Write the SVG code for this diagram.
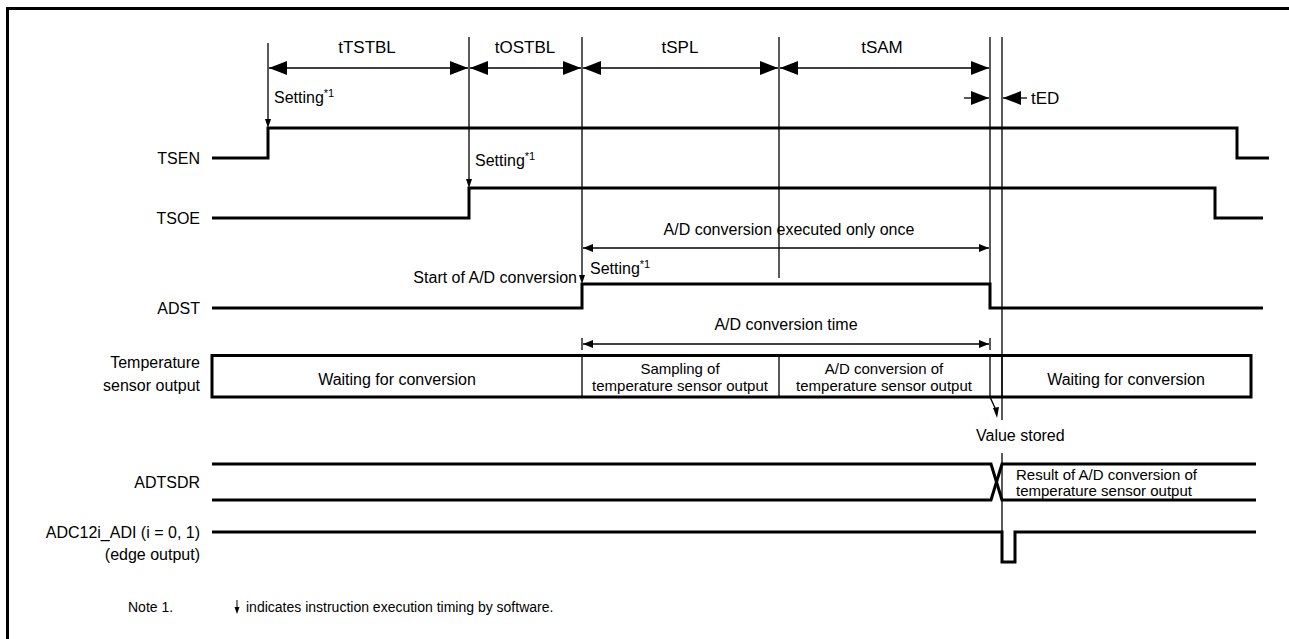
<svg xmlns="http://www.w3.org/2000/svg" width="1289" height="639" viewBox="0 0 1289 639">
<defs>
<style>
text{font-family:"Liberation Sans",Arial,sans-serif;fill:#000}
.lbl{font-size:16px}
.lab{font-size:16px;text-anchor:end}
.tim{font-size:17px;text-anchor:middle}
.cell{font-size:16px;text-anchor:middle}
.cell2{font-size:15px;text-anchor:middle}
.sup{font-size:11px}
.sig{fill:none;stroke:#000;stroke-width:3;stroke-linejoin:miter}
.mk{fill:none;stroke:#000;stroke-width:1.3}
.dim{fill:none;stroke:#000;stroke-width:1.3}
.frame{fill:none;stroke:#000;stroke-width:3}
</style>
<marker id="big" viewBox="0 0 18 14" refX="18" refY="7" markerWidth="18" markerHeight="14" markerUnits="userSpaceOnUse" orient="auto-start-reverse"><path d="M0,0 L18,7 L0,14 Z" fill="#000"/></marker>
<marker id="sm" viewBox="0 0 10 8" refX="10" refY="4" markerWidth="10" markerHeight="8" markerUnits="userSpaceOnUse" orient="auto-start-reverse"><path d="M0,0 L10,4 L0,8 Z" fill="#000"/></marker>
</defs>
<rect width="1289" height="639" fill="#fff"/>
<path class="frame" d="M7.5,639 V8.5 H1289"/>

<g id="tsen">
<text class="lab" x="200" y="164">TSEN</text>
<path class="sig" d="M212,158 H268 V128 H1237 V158 H1269"/>
</g>
<g id="tsoe">
<text class="lab" x="200" y="224">TSOE</text>
<path class="sig" d="M212,218 H469 V188 H1215 V218 H1263"/>
</g>
<g id="adst">
<text class="lab" x="200" y="314">ADST</text>
<path class="sig" d="M212,308 H582 V284 H990 V308 H1263"/>
</g>
<g id="tempsensor">
<text class="lab" x="200" y="368">Temperature</text>
<text class="lab" x="200" y="391">sensor output</text>
<rect x="212" y="355.5" width="1039" height="41.5" fill="none" stroke="#000" stroke-width="3"/>
<path class="mk" d="M582,356 V397 M779,356 V397 M1002,356 V397"/>
<text class="cell" x="397" y="385">Waiting for conversion</text>
<text class="cell2" x="680" y="374">Sampling of</text>
<text class="cell2" x="680" y="391">temperature sensor output</text>
<text class="cell2" x="884" y="374">A/D conversion of</text>
<text class="cell2" x="884" y="391">temperature sensor output</text>
<text class="cell" x="1126" y="385">Waiting for conversion</text>
</g>
<g id="adtsdr">
<text class="lab" x="200" y="488">ADTSDR</text>
<path class="sig" d="M212,464 H991 L1002,500 H1256"/>
<path class="sig" d="M212,500 H991 L1002,464 H1256"/>
<text class="cell2" x="1016" y="480" style="text-anchor:start">Result of A/D conversion of</text>
<text class="cell2" x="1016" y="496" style="text-anchor:start">temperature sensor output</text>
</g>
<g id="adc12i_adi">
<text class="lab" x="200" y="538">ADC12i_ADI (i = 0, 1)</text>
<text class="lab" x="200" y="560">(edge output)</text>
<path class="sig" d="M212,532 H1002 V562 H1015 V532 H1256"/>
</g>

<g id="connectors">
<path class="mk" d="M268,43 V120"/>
<path d="M265,119 L268,128 L271,119 Z" fill="#000"/>
<path class="mk" d="M469,37 V180"/>
<path d="M466,179 L469,188 L472,179 Z" fill="#000"/>
<path class="mk" d="M582,37 V276"/>
<path d="M579,275 L582,284 L585,275 Z" fill="#000"/>
<path class="mk" d="M779,37 V278"/>
<path class="mk" d="M990,37 V284"/>
<path class="mk" d="M1002,37 V420 M1002,453 V532"/>
<path class="mk" d="M990,356 V397 L996,410"/>
<path d="M993,408 L997,418 L999,407 Z" fill="#000"/>
<path class="mk" d="M990,338 V350 M582,338 V350"/>

<line class="dim" x1="269" y1="68" x2="468" y2="68" marker-start="url(#big)" marker-end="url(#big)"/>
<line class="dim" x1="470" y1="68" x2="581" y2="68" marker-start="url(#big)" marker-end="url(#big)"/>
<line class="dim" x1="583" y1="68" x2="778" y2="68" marker-start="url(#big)" marker-end="url(#big)"/>
<line class="dim" x1="780" y1="68" x2="989" y2="68" marker-start="url(#big)" marker-end="url(#big)"/>
<line class="dim" x1="964" y1="98" x2="989" y2="98" marker-end="url(#big)"/>
<line class="dim" x1="1027" y1="98" x2="1003" y2="98" marker-end="url(#big)"/>
<line class="dim" x1="583" y1="248" x2="989" y2="248" marker-start="url(#sm)" marker-end="url(#sm)"/>
<line class="dim" x1="583" y1="344" x2="989" y2="344" marker-start="url(#sm)" marker-end="url(#sm)"/>
</g>

<g id="labels">
<text class="tim" x="367" y="53">tTSTBL</text>
<text class="tim" x="525" y="53">tOSTBL</text>
<text class="tim" x="680" y="53">tSPL</text>
<text class="tim" x="882" y="53">tSAM</text>
<text class="lbl" x="1031" y="104" style="font-size:17px">tED</text>
<text class="lbl" x="274" y="103">Setting<tspan class="sup" dy="-6">*1</tspan></text>
<text class="lbl" x="475" y="166">Setting<tspan class="sup" dy="-6">*1</tspan></text>
<text class="lbl" x="590" y="274">Setting<tspan class="sup" dy="-6">*1</tspan></text>
<text class="lbl" x="577" y="283" text-anchor="end">Start of A/D conversion</text>
<text class="lbl" x="789" y="235" text-anchor="middle">A/D conversion executed only once</text>
<text class="lbl" x="786" y="330" text-anchor="middle">A/D conversion time</text>
<text class="lbl" x="976" y="441">Value stored</text>
</g>

<g id="note">
<text x="128" y="612" style="font-size:14px">Note 1.</text>
<path class="mk" d="M237,600 V610" style="stroke-width:1"/>
<path d="M234.5,607 L237,614 L239.5,607 Z" fill="#000"/>
<text x="246" y="612" style="font-size:14px">indicates instruction execution timing by software.</text>
</g>
</svg>
